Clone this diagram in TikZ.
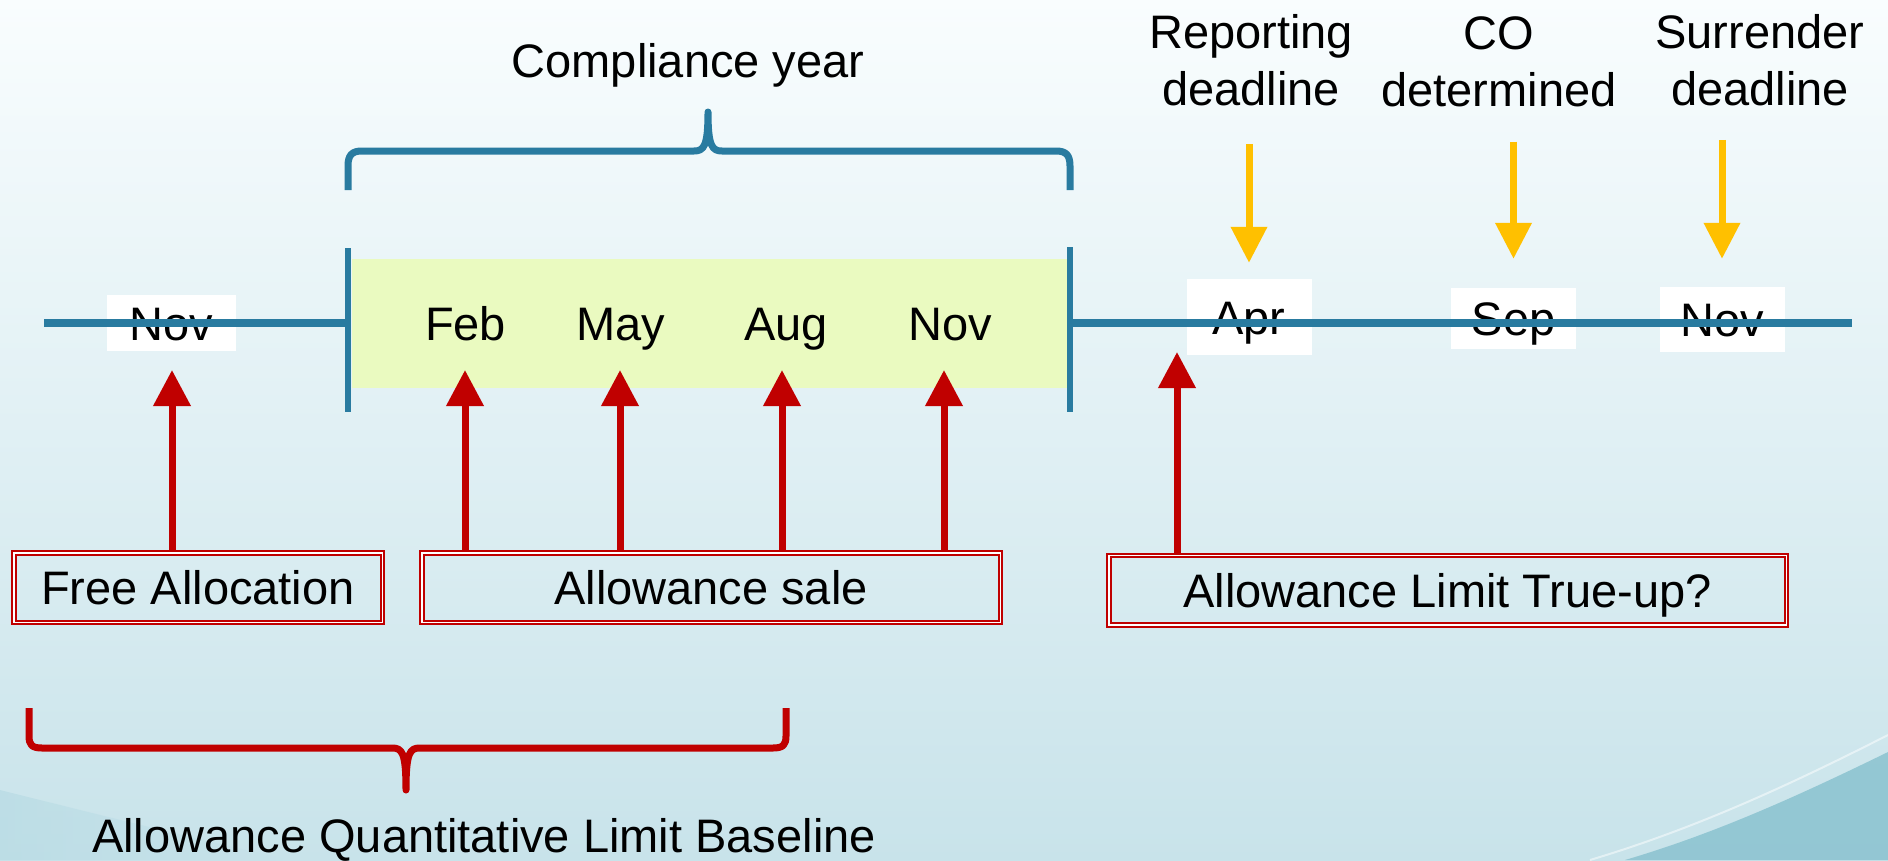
\documentclass[tikz,border=0pt]{standalone}
\usepackage{fontspec}
\setmainfont{Liberation Sans}
\usetikzlibrary{arrows.meta,calc}
\definecolor{tlblue}{RGB}{41,123,160}
\definecolor{cygreen}{RGB}{234,250,192}
\definecolor{redc}{RGB}{192,0,0}
\definecolor{yelc}{RGB}{255,192,0}
\definecolor{bgtop}{RGB}{249,253,254}
\definecolor{bgmid}{RGB}{242,249,251}
\definecolor{bgbot}{RGB}{200,227,234}
\definecolor{swooshR}{RGB}{138,194,207}
\definecolor{swooshL}{RGB}{180,217,227}
\begin{document}
\begin{tikzpicture}[x=1pt,y=-1pt,
  font=\fontsize{47}{57}\selectfont,
  month/.style={fill=white, inner sep=0pt, text height=34pt, text depth=0pt, minimum width=125pt, minimum height=62pt},
  gmonth/.style={inner sep=0pt, text height=34pt, text depth=0pt},
  evbox/.style={draw=redc, double=white, line width=2pt, double distance=1.5pt, inner sep=0pt, text height=34pt, text depth=0pt, minimum height=69.5pt},
  rarrow/.style={draw=redc, line width=7pt, -{Triangle[width=36pt,length=36pt]}},
  yarrow/.style={draw=yelc, line width=7pt, -{Triangle[width=35pt,length=36pt]}},
  tline/.style={draw=tlblue, line width=8pt},
  tbar/.style={draw=tlblue, line width=6pt},
  cbrace/.style={draw=tlblue, line width=7pt, line join=round},
  abrace/.style={draw=redc, line width=7pt, line join=round},
  lab/.style={inner sep=0pt, align=center}]
\useasboundingbox (0,0) rectangle (1888,860);
% background
\shade[top color=bgtop, middle color=bgmid, bottom color=bgbot] (0,0) rectangle (1888,860);
\shade[left color=swooshL, right color=bgbot, opacity=0.6] (0,790) .. controls (100,815) and (200,840) .. (290,860) -- (0,860) -- cycle;
\fill[swooshR, opacity=0.85] (1888,752) .. controls (1790,800) and (1710,835) .. (1625,860) -- (1888,860) -- cycle;
\draw[white, opacity=0.5, line width=2pt] (1888,735) .. controls (1780,790) and (1690,830) .. (1590,860);
% compliance year area
\fill[cygreen] (352,259) rectangle (1067,388);
% months
\node[month, minimum width=129pt, minimum height=56pt] (nov0) at (171.5,323) {Nov};
\node[gmonth] (feb) at (465.5,323) {Feb};
\node[gmonth] (may) at (621,323) {May};
\node[gmonth] (aug) at (786,323) {Aug};
\node[gmonth] (nov1) at (950,323) {Nov};
\node[month, minimum height=76pt] (apr) at (1249,317) {Apr};
\node[month, minimum height=61pt] (sep) at (1513.5,318) {Sep};
\node[month, minimum height=65pt] (nov2) at (1722,319) {Nov};
% timeline
\draw[tline] (44,323) -- (348,323);
\draw[tline] (1070,323) -- (1852,323);
\draw[tbar] (348,248) -- (348,412);
\draw[tbar] (1070,247) -- (1070,412);
% top brace
\draw[cbrace] (348,190) -- (348,166) .. controls (348,155) and (352,151) .. (362,151) -- (694,151) .. controls (704,151) and (708,146) .. (708,112) .. controls (708,146) and (712,151) .. (722,151) -- (1056,151) .. controls (1066,151) and (1070,155) .. (1070,166) -- (1070,190);
\node[anchor=base, inner sep=0pt] (cy) at (688,77) {Compliance year};
% bottom brace
\draw[abrace] (29,708) -- (29,736) .. controls (29,745) and (32,748) .. (42,748) -- (392,748) .. controls (402,748) and (406,752) .. (406,790) .. controls (406,752) and (410,748) .. (420,748) -- (773,748) .. controls (783,748) and (786,745) .. (786,736) -- (786,708);
\node[anchor=base, inner sep=0pt] (aql) at (484,852) {Allowance Quantitative Limit Baseline};
% deadline labels
\node[lab, anchor=north] (rep) at (1251,14) {Reporting\\deadline};
\node[lab, anchor=north] (co) at (1499,16) {CO\\determined};
\node[lab, anchor=north] (sur) at (1760,14) {Surrender\\deadline};
\draw[yarrow] ($(rep.south -| apr.north)+(0,38)$) -- ($(apr.north)+(0,-16)$);
\draw[yarrow] ($(co.south -| sep.north)+(0,35)$) -- ($(sep.north)+(0,-28.5)$);
\draw[yarrow] ($(sur.south -| nov2.north)+(0,34)$) -- ($(nov2.north)+(0,-27.5)$);
% event boxes
\node[evbox, minimum width=368.5pt] (fa) at (198,587.5) {Free Allocation};
\node[evbox, minimum width=578.5pt] (as) at (711,587.5) {Allowance sale};
\node[evbox, minimum width=677.5pt] (tu) at (1447.5,590) {Allowance Limit True-up?};
% arrow tips
\coordinate (tFA) at (172,370);
\coordinate (tFeb) at (465,370);
\coordinate (tMay) at (620,370);
\coordinate (tAug) at (782,370);
\coordinate (tNov) at (944,370);
\coordinate (tTU) at (1177,352);
\draw[rarrow] (fa.north -| tFA) -- (tFA);
\draw[rarrow] (as.north -| tFeb) -- (tFeb);
\draw[rarrow] (as.north -| tMay) -- (tMay);
\draw[rarrow] (as.north -| tAug) -- (tAug);
\draw[rarrow] (as.north -| tNov) -- (tNov);
\draw[rarrow] (tu.north -| tTU) -- (tTU);
\end{tikzpicture}
\end{document}
